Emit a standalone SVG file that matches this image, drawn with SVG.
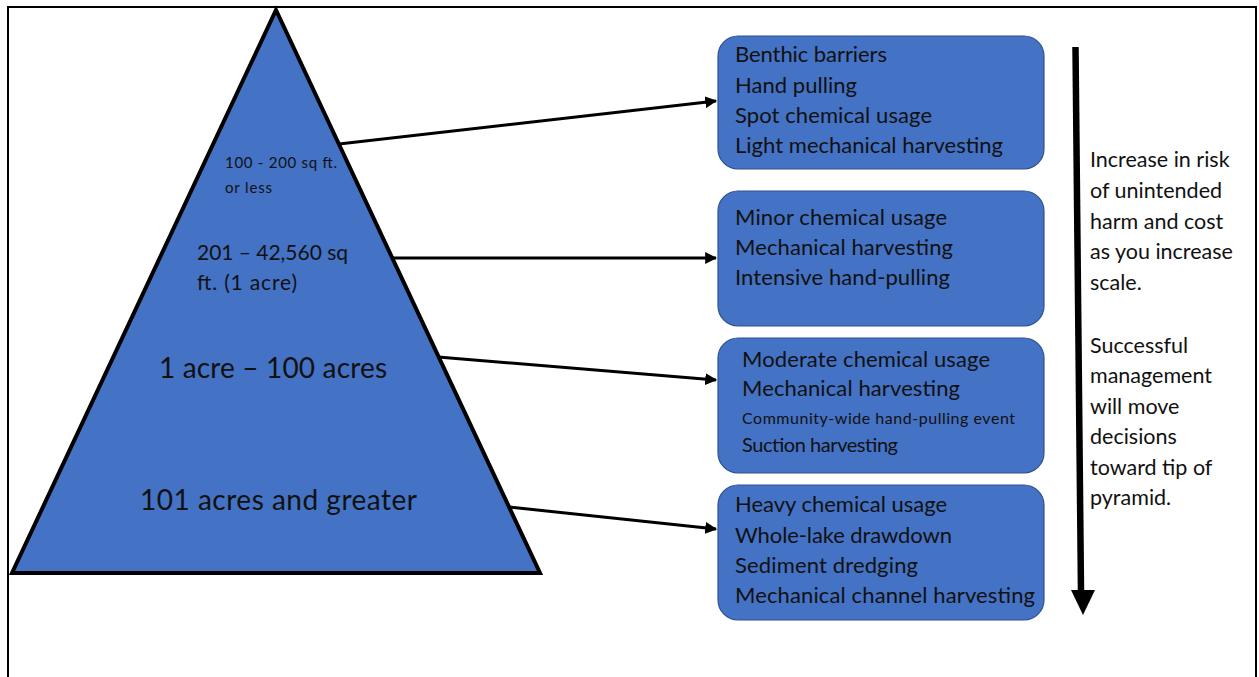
<svg xmlns="http://www.w3.org/2000/svg" width="1259" height="677" viewBox="0 0 1259 677">
<style>
.t{font-family:Lato,"Liberation Sans",sans-serif;fill:#111;}
.b{font-size:22px;}
.box{fill:#4472C4;stroke:#2F528F;stroke-width:1.2;}
.con{stroke:#000;stroke-width:3;fill:none;marker-end:url(#ah);}
</style>
<defs>
<marker id="ah" viewBox="0 0 10 10" refX="9" refY="5" markerWidth="4" markerHeight="4" markerUnits="strokeWidth" orient="auto">
<path d="M0,0 L10,5 L0,10 z" fill="#000"/>
</marker>
</defs>
<rect width="1259" height="677" fill="#fff"/>
<path d="M8,680 V7 H1256 V680" fill="none" stroke="#000" stroke-width="2"/>
<g id="pyramid">
<polygon points="276,10 540,573 12,573" fill="#4472C4" stroke="#000" stroke-width="4" stroke-linejoin="miter"/>
<text class="t" x="225" y="168" font-size="15" textLength="112">100 - 200 sq ft.</text>
<text class="t" x="225" y="193" font-size="15" textLength="47">or less</text>
<text class="t" x="197" y="260" font-size="21" textLength="151">201 – 42,560 sq</text>
<text class="t" x="197" y="290" font-size="21" textLength="100">ft. (1 acre)</text>
<text class="t" x="159" y="378" font-size="28" textLength="228">1 acre – 100 acres</text>
<text class="t" x="140" y="510" font-size="28" textLength="277">101 acres and greater</text>
</g>
<g id="connectors">
<line class="con" x1="339" y1="144" x2="716" y2="101"/>
<line class="con" x1="392" y1="258" x2="716" y2="258"/>
<line class="con" x1="438" y1="357" x2="716" y2="380"/>
<line class="con" x1="509" y1="507" x2="716" y2="529"/>
</g>
<g id="box1">
<rect class="box" x="718" y="36" width="326" height="133" rx="20"/>
<text class="t b" x="735" y="62" textLength="152">Benthic barriers</text>
<text class="t b" x="735" y="93" textLength="122">Hand pulling</text>
<text class="t b" x="735" y="123" textLength="197">Spot chemical usage</text>
<text class="t b" x="735" y="153" textLength="268">Light mechanical harvesting</text>
</g>
<g id="box2">
<rect class="box" x="718" y="191" width="326" height="135" rx="20"/>
<text class="t b" x="735" y="225" textLength="212">Minor chemical usage</text>
<text class="t b" x="735" y="255" textLength="218">Mechanical harvesting</text>
<text class="t b" x="735" y="285" textLength="215">Intensive hand-pulling</text>
</g>
<g id="box3">
<rect class="box" x="718" y="338" width="326" height="135" rx="20"/>
<text class="t b" x="742" y="367" textLength="248">Moderate chemical usage</text>
<text class="t b" x="742" y="396" textLength="218">Mechanical harvesting</text>
<text class="t" x="742" y="424" font-size="16" textLength="273">Community-wide hand-pulling event</text>
<text class="t" x="742" y="452" font-size="20" textLength="156">Suction harvesting</text>
</g>
<g id="box4">
<rect class="box" x="718" y="485" width="326" height="135" rx="20"/>
<text class="t b" x="735" y="512" textLength="212">Heavy chemical usage</text>
<text class="t b" x="735" y="543" textLength="217">Whole-lake drawdown</text>
<text class="t b" x="735" y="573" textLength="183">Sediment dredging</text>
<text class="t b" x="735" y="603" textLength="300">Mechanical channel harvesting</text>
</g>
<g id="scale-arrow">
<line x1="1075.5" y1="47" x2="1081" y2="592" stroke="#000" stroke-width="6.5"/>
<polygon points="1071,590 1095,590 1083,615" fill="#000"/>
</g>
<g id="note">
<text class="t" x="1090" font-size="21.5">
<tspan x="1090" y="167">Increase in risk</tspan>
<tspan x="1090" y="198">of unintended</tspan>
<tspan x="1090" y="229">harm and cost</tspan>
<tspan x="1090" y="259">as you increase</tspan>
<tspan x="1090" y="290">scale.</tspan>
<tspan x="1090" y="353">Successful</tspan>
<tspan x="1090" y="383">management</tspan>
<tspan x="1090" y="414">will move</tspan>
<tspan x="1090" y="444">decisions</tspan>
<tspan x="1090" y="475">toward tip of</tspan>
<tspan x="1090" y="505">pyramid.</tspan>
</text>
</g>
</svg>
